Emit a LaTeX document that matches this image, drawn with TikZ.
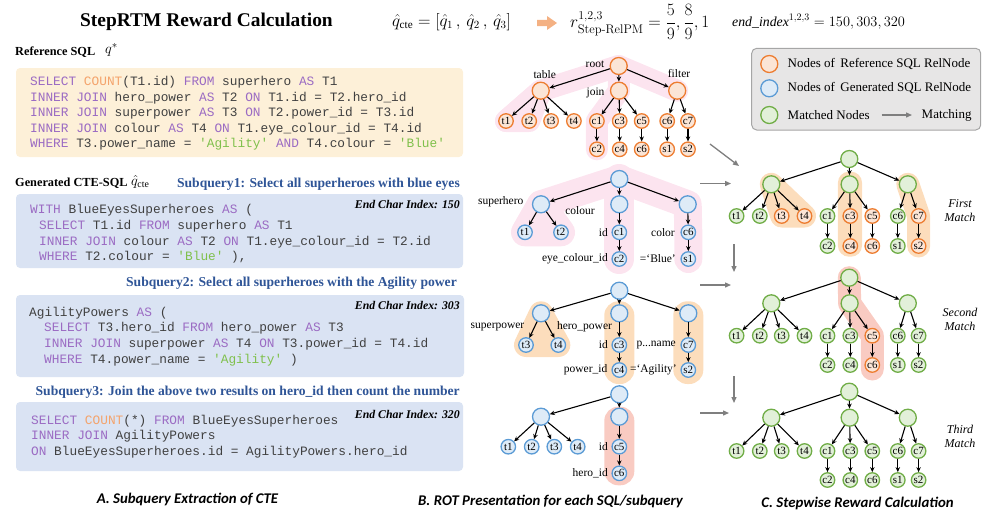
\documentclass[tikz,border=0pt]{standalone}
\usepackage{amsmath}
\usepackage{fontspec}
\setmainfont{Liberation Serif}
\setmonofont{Liberation Mono}
\newfontfamily\capfont{Carlito}
\usetikzlibrary{arrows.meta,backgrounds,calc}

\definecolor{orS}{HTML}{ED7D31}
\definecolor{orF}{HTML}{FBE5D6}
\definecolor{blS}{HTML}{5B9BD5}
\definecolor{blF}{HTML}{DEEBF7}
\definecolor{grS}{HTML}{70AD47}
\definecolor{grF}{HTML}{E2F0D9}
\definecolor{refboxc}{HTML}{FDF0D8}
\definecolor{genboxc}{HTML}{DAE3F3}
\definecolor{subqc}{HTML}{2F5597}
\definecolor{kwc}{HTML}{9B6BC3}
\definecolor{fnc}{HTML}{F4A36B}
\definecolor{stc}{HTML}{7FC04B}
\definecolor{codec}{HTML}{404040}
\definecolor{legf}{HTML}{E7E6E6}
\definecolor{legd}{HTML}{A6A6A6}
\definecolor{grayarr}{HTML}{7F7F7F}
\definecolor{pinkH}{HTML}{FCE4EF}
\definecolor{orH}{HTML}{FCDDBC}
\definecolor{redH}{HTML}{F9CBC2}
\definecolor{bigarr}{HTML}{F4B183}

\newcommand\sqk[1]{\textcolor{kwc}{#1}}
\newcommand\sqf[1]{\textcolor{fnc}{#1}}
\newcommand\sqs[1]{\textcolor{stc}{#1}}

\newcommand\fulltree[7]{%
\node[bign,#7,#1-r/.try] (#1-r) at (#2,#3) {};
\node[bign,#7,#1-a/.try] (#1-a) at ({#2-78},#4) {};
\node[bign,#7,#1-b/.try] (#1-b) at ({#2+0.3},#4) {};
\node[bign,#7,#1-c/.try] (#1-c) at ({#2+58.5},#4) {};
\node[leaf,#7,#1-t1/.try] (#1-t1) at ({#2-112.7},#5) {t1};
\node[leaf,#7,#1-t2/.try] (#1-t2) at ({#2-89.5},#5) {t2};
\node[leaf,#7,#1-t3/.try] (#1-t3) at ({#2-67.6},#5) {t3};
\node[leaf,#7,#1-t4/.try] (#1-t4) at ({#2-44.8},#5) {t4};
\node[leaf,#7,#1-c1/.try] (#1-c1) at ({#2-21.8},#5) {c1};
\node[leaf,#7,#1-c3/.try] (#1-c3) at ({#2+1},#5) {c3};
\node[leaf,#7,#1-c5/.try] (#1-c5) at ({#2+23},#5) {c5};
\node[leaf,#7,#1-c6/.try] (#1-c6) at ({#2+48.5},#5) {c6};
\node[leaf,#7,#1-c7/.try] (#1-c7) at ({#2+69.3},#5) {c7};
\node[leaf,#7,#1-d2/.try] (#1-d2) at ({#2-21.8},#6) {c2};
\node[leaf,#7,#1-d4/.try] (#1-d4) at ({#2+1},#6) {c4};
\node[leaf,#7,#1-d6/.try] (#1-d6) at ({#2+23},#6) {c6};
\node[leaf,#7,#1-s1/.try] (#1-s1) at ({#2+48.5},#6) {s1};
\node[leaf,#7,#1-s2/.try] (#1-s2) at ({#2+69.3},#6) {s2};
\foreach \pa/\pb in {r/a,r/b,r/c,a/t1,a/t2,a/t3,a/t4,b/c1,b/c3,b/c5,c/c6,c/c7,c1/d2,c3/d4,c5/d6,c6/s1,c7/s2}
  \draw[edge] (#1-\pa) -- (#1-\pb);
}

\begin{document}
\begin{tikzpicture}[x=1pt,y=-1pt,
  bign/.style={circle, minimum size=17pt, inner sep=0pt, line width=1.3pt},
  leaf/.style={circle, minimum size=14.5pt, inner sep=0pt, line width=1.3pt, font=\fontsize{11}{12}\selectfont},
  refn/.style={draw=orS, fill=orF},
  genn/.style={draw=blS, fill=blF},
  matn/.style={draw=grS, fill=grF},
  edge/.style={-{Stealth[length=5pt,width=4.5pt]}, line width=1.1pt, draw=black},
  garrow/.style={-{Triangle[length=6pt,width=5pt]}, line width=1.3pt, draw=grayarr},
  tlab/.style={inner sep=0pt, font=\fontsize{11.5}{13}\selectfont},
  codeline/.style={anchor=west, inner sep=0pt, text=codec, font=\ttfamily\fontsize{12.8}{14}\selectfont},
  cbox/.style={rounded corners=4pt, inner sep=0pt},
  endidx/.style={anchor=east, inner sep=0pt, font=\bfseries\itshape\fontsize{11.8}{13}\selectfont},
  subq/.style={anchor=east, inner sep=0pt, text=subqc, font=\bfseries\fontsize{13.6}{15}\selectfont},
  hdr/.style={anchor=west, inner sep=0pt, font=\bfseries\fontsize{12.3}{14}\selectfont},
  caption/.style={inner sep=0pt, font=\capfont\bfseries\itshape\fontsize{14.8}{16}\selectfont},
  mlab/.style={inner sep=0pt, align=center, font=\itshape\fontsize{12}{14}\selectfont},
  legtext/.style={anchor=west, inner sep=0pt, font=\fontsize{13}{14}\selectfont},
  hl/.style={line cap=round, line join=round},
  F-t3/.style={refn}, F-t4/.style={refn}, F-c3/.style={refn}, F-c5/.style={refn},
  F-c7/.style={refn}, F-d4/.style={refn}, F-d6/.style={refn}, F-s2/.style={refn},
  S-c5/.style={refn}, S-d6/.style={refn}
]
\useasboundingbox (0,0) rectangle (996,517);

% ---------- title and formulas ----------
\node[inner sep=0pt, font=\bfseries\fontsize{19.4}{22}\selectfont] (title) at (206.5,22) {StepRTM Reward Calculation};
\node[anchor=west, inner sep=0pt, font=\fontsize{16}{18}\selectfont] (f1) at (392,22) {$\hat{q}_{\mathrm{cte}}=[\hat{q}_1\,,\,\hat{q}_2\,,\,\hat{q}_3]$};
\fill[bigarr] (537,19.8) -- (547,19.8) -- (547,16) -- (557,23) -- (547,30) -- (547,26.2) -- (537,26.2) -- cycle;
\node[anchor=west, inner sep=0pt, font=\fontsize{16.5}{18}\selectfont] (f2) at (570,22) {$r^{1,2,3}_{\text{\fontfamily{lmr}\fontsize{12.5}{13}\selectfont Step-RelPM}}=\dfrac{5}{9},\dfrac{8}{9},1$};
\node[anchor=west, inner sep=0pt, font=\fontsize{13.8}{16}\selectfont] (f3) at (732,22) {$\mathit{end\_index}^{1,2,3}=150,303,320$};

% ---------- panel A ----------
\node[hdr] (refl) at (15,52) {Reference SQL};
\node[anchor=west, inner sep=0pt, font=\fontsize{15}{16}\selectfont] (refq) at (105,50) {$q^{*}$};
\node[cbox, fill=refboxc, minimum width=447pt, minimum height=89pt] (refbox) at (239.5,112.5) {};
\node[codeline] (r1) at (30,82.5) {\sqk{SELECT} \sqf{COUNT}(T1.id) \sqk{FROM} superhero \sqk{AS} T1};
\node[codeline] (r2) at (30,98) {\sqk{INNER JOIN} hero\_power \sqk{AS} T2 \sqk{ON} T1.id = T2.hero\_id};
\node[codeline] (r3) at (30,113.5) {\sqk{INNER JOIN} superpower \sqk{AS} T3 \sqk{ON} T2.power\_id = T3.id};
\node[codeline] (r4) at (30,129) {\sqk{INNER JOIN} colour \sqk{AS} T4 \sqk{ON} T1.eye\_colour\_id = T4.id};
\node[codeline] (r5) at (30,144.5) {\sqk{WHERE} T3.power\_name = \sqs{'Agility'} \sqk{AND} T4.colour = \sqs{'Blue'}};

\node[hdr] (genl) at (15,183) {Generated CTE-SQL};
\node[anchor=west, inner sep=0pt, font=\fontsize{14}{16}\selectfont] (genq) at (131,182) {$\hat{q}_{\mathrm{cte}}$};
\node[subq] (sq1) at (460,184) {Subquery1: Select all superheroes with blue eyes};
\node[cbox, fill=genboxc, minimum width=447pt, minimum height=74pt] (box1) at (239.5,231) {};
\node[endidx] (e1) at (460,204) {End Char Index: 150};
\node[codeline] (a1) at (30,210) {\sqk{WITH} BlueEyesSuperheroes \sqk{AS} (};
\node[codeline] (a2) at (39,226) {\sqk{SELECT} T1.id \sqk{FROM} superhero \sqk{AS} T1};
\node[codeline] (a3) at (39,241.7) {\sqk{INNER JOIN} colour \sqk{AS} T2 \sqk{ON} T1.eye\_colour\_id = T2.id};
\node[codeline] (a4) at (39,256.7) {\sqk{WHERE} T2.colour = \sqs{'Blue'} ),};

\node[subq] (sq2) at (457,283) {Subquery2: Select all superheroes with the Agility power};
\node[cbox, fill=genboxc, minimum width=448pt, minimum height=82pt] (box2) at (240,336) {};
\node[endidx] (e2) at (460,305) {End Char Index: 303};
\node[codeline] (b1) at (29,313) {AgilityPowers \sqk{AS} (};
\node[codeline] (b2) at (44,328.5) {\sqk{SELECT} T3.hero\_id \sqk{FROM} hero\_power \sqk{AS} T3};
\node[codeline] (b3) at (44,344.5) {\sqk{INNER JOIN} superpower \sqk{AS} T4 \sqk{ON} T3.power\_id = T4.id};
\node[codeline] (b4) at (44,360) {\sqk{WHERE} T4.power\_name = \sqs{'Agility'} )};

\node[subq] (sq3) at (460,392) {Subquery3: Join the above two results on hero\_id then count the number};
\node[cbox, fill=genboxc, minimum width=447pt, minimum height=69pt] (box3) at (239.5,436.5) {};
\node[endidx] (e3) at (460,414) {End Char Index: 320};
\node[codeline] (c1) at (31,421) {\sqk{SELECT} \sqf{COUNT}(*) \sqk{FROM} BlueEyesSuperheroes};
\node[codeline] (c2) at (31,436.5) {\sqk{INNER JOIN} AgilityPowers};
\node[codeline] (c3) at (31,452) {\sqk{ON} BlueEyesSuperheroes.id = AgilityPowers.hero\_id};

\node[caption] (capA) at (187.5,499) {A. Subquery Extraction of CTE};
\node[caption] (capB) at (550.5,501) {B. ROT Presentation for each SQL/subquery};
\node[caption] (capC) at (857.5,503) {C. Stepwise Reward Calculation};

% ---------- panel B: reference tree ----------
\fulltree{R}{618.7}{66}{90.7}{121}{149.3}{refn}
\node[tlab] (lroot) at (595,64) {root};
\node[tlab] (ltable) at (544.7,74.3) {table};
\node[tlab] (ljoin) at (595.5,92.7) {join};
\node[tlab] (lfilter) at (679,74) {filter};

% subquery 1 tree
\node[bign,genn] (G1-r) at (619.3,179) {};
\node[bign,genn] (G1-a) at (541,204.3) {};
\node[bign,genn] (G1-b) at (619.3,204.3) {};
\node[bign,genn] (G1-c) at (687.7,204.3) {};
\node[leaf,genn] (G1-t1) at (525,232.3) {t1};
\node[leaf,genn] (G1-t2) at (561,232.3) {t2};
\node[leaf,genn] (G1-c1) at (619.3,232.3) {c1};
\node[leaf,genn] (G1-c6) at (688.3,232.3) {c6};
\node[leaf,genn] (G1-d2) at (619.3,259) {c2};
\node[leaf,genn] (G1-s1) at (688.3,259) {s1};
\foreach \pa/\pb in {r/a,r/b,r/c,a/t1,a/t2,b/c1,c/c6,c1/d2,c6/s1}
  \draw[edge] (G1-\pa) -- (G1-\pb);
\node[tlab] (l1a) at (500.7,201.7) {superhero};
\node[tlab] (l1b) at (580,211) {colour};
\node[tlab, anchor=east] (l1c) at (608,233) {id};
\node[tlab, anchor=east] (l1d) at (608,259) {eye\_colour\_id};
\node[tlab, anchor=east] (l1e) at (675,233) {color};
\node[tlab, anchor=east] (l1f) at (676,259) {=‘Blue’};

% subquery 2 tree
\node[bign,genn] (G2-r) at (619.3,290.7) {};
\node[bign,genn] (G2-a) at (541,313.3) {};
\node[bign,genn] (G2-b) at (619.3,313.3) {};
\node[bign,genn] (G2-c) at (688.3,313.3) {};
\node[leaf,genn] (G2-t3) at (526,345) {t3};
\node[leaf,genn] (G2-t4) at (558.3,345) {t4};
\node[leaf,genn] (G2-c3) at (619.3,345) {c3};
\node[leaf,genn] (G2-c7) at (688.3,345) {c7};
\node[leaf,genn] (G2-d4) at (619.3,370) {c4};
\node[leaf,genn] (G2-s2) at (688.3,370) {s2};
\foreach \pa/\pb in {r/a,r/b,r/c,a/t3,a/t4,b/c3,c/c7,c3/d4,c7/s2}
  \draw[edge] (G2-\pa) -- (G2-\pb);
\node[tlab] (l2a) at (497.5,326.7) {superpower};
\node[tlab] (l2b) at (584.5,326.7) {hero\_power};
\node[tlab, anchor=east] (l2c) at (608,345) {id};
\node[tlab, anchor=east] (l2d) at (676,345) {p...name};
\node[tlab, anchor=east] (l2e) at (607.5,370) {power\_id};
\node[tlab, anchor=east] (l2f) at (677,370) {=‘Agility’};

% subquery 3 tree
\node[bign,genn] (G3-r) at (619.3,394.3) {};
\node[bign,genn] (G3-a) at (541,416.7) {};
\node[bign,genn] (G3-b) at (619.3,416.7) {};
\node[leaf,genn] (G3-t1) at (508.3,446.7) {t1};
\node[leaf,genn] (G3-t2) at (531.7,446.7) {t2};
\node[leaf,genn] (G3-t3) at (554.3,446.7) {t3};
\node[leaf,genn] (G3-t4) at (577.7,446.7) {t4};
\node[leaf,genn] (G3-c5) at (619.3,446.7) {c5};
\node[leaf,genn] (G3-d6) at (619.3,473.3) {c6};
\foreach \pa/\pb in {r/a,r/b,a/t1,a/t2,a/t3,a/t4,b/c5,c5/d6}
  \draw[edge] (G3-\pa) -- (G3-\pb);
\node[tlab, anchor=east] (l3a) at (608,446.7) {id};
\node[tlab, anchor=east] (l3b) at (608,473.3) {hero\_id};

% ---------- panel C ----------
\fulltree{F}{849.3}{159}{184.3}{216}{246}{matn}
\fulltree{S}{849.3}{277.7}{303.3}{335.7}{365}{matn}
\fulltree{T}{849.3}{391.7}{417.7}{451}{480}{matn}
\node[mlab] (m1) at (960,211) {First\\Match};
\node[mlab] (m2) at (960,319) {Second\\Match};
\node[mlab] (m3) at (960,436) {Third\\Match};

% gray matching arrows
\coordinate (ga1) at (710,144); \coordinate (gb1) at (739,166);
\coordinate (ga2) at (700,183.5); \coordinate (gb2) at (731,183.5);
\coordinate (ga3) at (734,244); \coordinate (gb3) at (734,272);
\coordinate (ga4) at (700,285); \coordinate (gb4) at (731,285);
\coordinate (ga5) at (734,376); \coordinate (gb5) at (734,403);
\coordinate (ga6) at (700,413); \coordinate (gb6) at (729,413);
\foreach \k in {1,...,6} \draw[garrow] (ga\k) -- (gb\k);

% legend
\node[rounded corners=5pt, draw=legd, fill=legf, line width=1pt, minimum width=229pt, minimum height=81.7pt, inner sep=0pt] (leg) at (866.2,89.15) {};
\node[bign,refn] (lg1) at (769.3,64) {};
\node[bign,genn] (lg2) at (769.3,88.3) {};
\node[bign,matn] (lg3) at (769.3,115) {};
\node[legtext] (lt1) at (787.5,64) {Nodes of\, Reference SQL RelNode};
\node[legtext] (lt2) at (787.5,88.3) {Nodes of\, Generated SQL RelNode};
\node[legtext] (lt3) at (787.5,115) {Matched Nodes};
\coordinate (la1) at (881.7,115); \coordinate (la2) at (912,115);
\draw[garrow] (la1) -- (la2);
\node[legtext] (lt4) at (921.5,115) {Matching};

% ---------- highlights ----------
\begin{pgfonlayer}{background}
\draw[hl, draw=pinkH, line width=22pt] (R-t1.center) -- (R-a.center) -- (R-r.center) -- (R-c.center);
\filldraw[hl, draw=pinkH, fill=pinkH, line width=22pt] (R-t1.center) -- (R-t2.center) -- (R-a.center) -- cycle;
\draw[hl, draw=pinkH, line width=22pt] (R-r.center) -- (R-b.center) -- (R-c1.center) -- (R-d2.center);

\draw[hl, draw=pinkH, line width=28pt] (G1-a.center) -- (G1-r.center) -- (G1-c.center) -- (G1-c6.center) -- (G1-s1.center);
\draw[hl, draw=pinkH, line width=30pt] (G1-r.center) -- (G1-b.center) -- (G1-d2.center);
\filldraw[hl, draw=pinkH, fill=pinkH, line width=28pt] (G1-a.center) -- (G1-t1.center) -- (G1-t2.center) -- cycle;

\filldraw[hl, draw=orH, fill=orH, line width=24pt] (G2-a.center) -- (G2-t3.center) -- (G2-t4.center) -- cycle;
\fill[orH, rounded corners=14pt] ($(G2-b.center)+(-15,-12)$) rectangle ($(G2-d4.center)+(15,14)$);
\fill[orH, rounded corners=14pt] ($(G2-c.center)+(-15,-12)$) rectangle ($(G2-s2.center)+(15,14)$);

\fill[redH, rounded corners=14pt] ($(G3-b.center)+(-15,-10)$) rectangle ($(G3-d6.center)+(15,12)$);

\filldraw[hl, draw=orH, fill=orH, line width=23pt] (F-a.center) -- (F-t3.center) -- (F-t4.center) -- cycle;
\fill[orH, rounded corners=11pt] ($(F-b.center)+(-11.7,-12.6)$) rectangle ($(F-d4.center)+(11.7,10.7)$);
\draw[hl, draw=orH, line width=23pt] (F-c.center) -- (F-c7.center) -- (F-s2.center);

\draw[hl, draw=redH, line width=23pt] (S-r.center) -- (S-b.center) -- (S-c5.center) -- ($(S-d6.center)+(0,4)$);
\end{pgfonlayer}
\end{tikzpicture}
\end{document}
